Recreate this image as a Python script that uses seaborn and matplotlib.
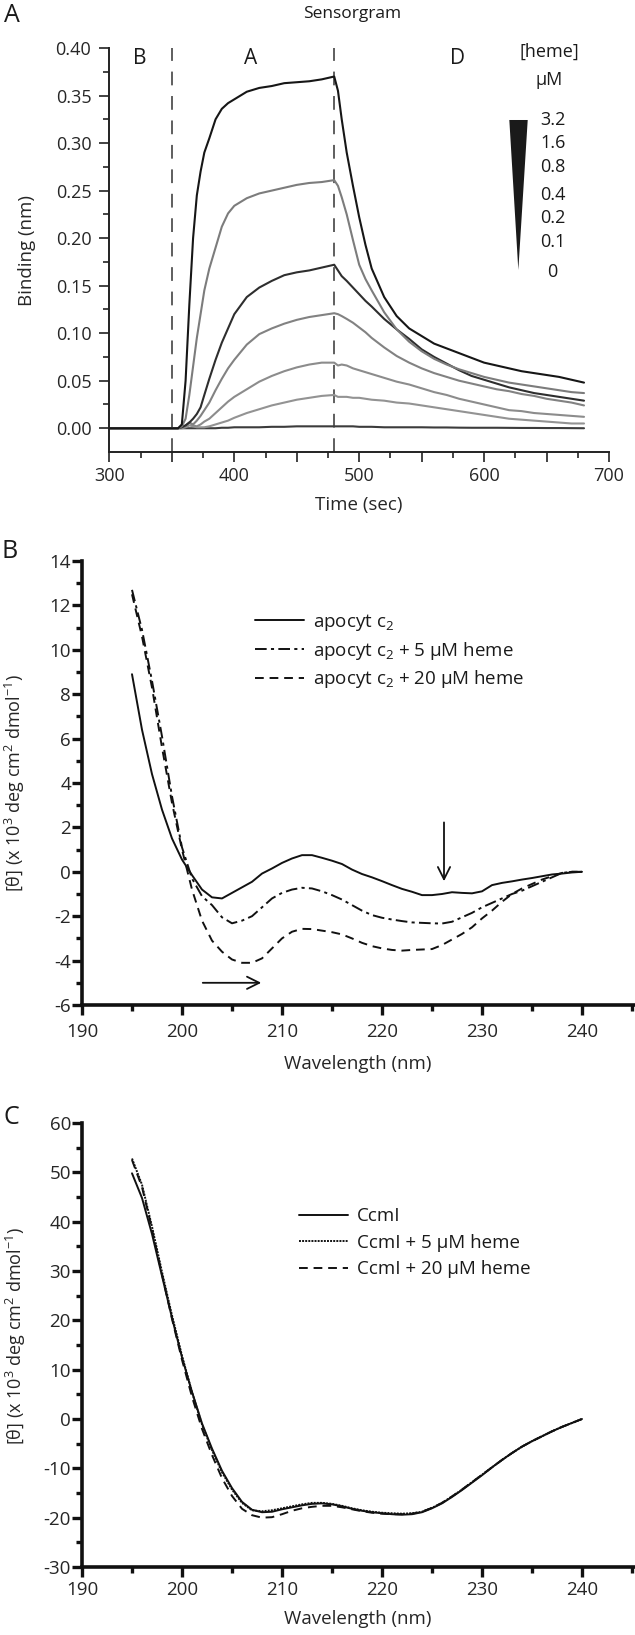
import numpy as np
import pandas as pd
import matplotlib
matplotlib.use("Agg")
import matplotlib.pyplot as plt
import seaborn as sns
from matplotlib.ticker import MultipleLocator, FixedLocator, FuncFormatter, FormatStrFormatter
from matplotlib.patches import Polygon

# ---------------- Panel A: sensorgram ----------------
time_s = [300, 355, 358, 361, 364, 367, 370, 373, 376, 380, 385, 390, 395, 400, 410, 420, 430,
          440, 450, 460, 470, 480, 483, 486, 490, 495, 500, 505, 510, 520, 530, 540, 550, 560,
          570, 580, 590, 600, 610, 620, 630, 640, 650, 660, 670, 680]
heme_conc = ["3.2", "1.6", "0.8", "0.4", "0.2", "0.1", "0"]
bind_3_2 = [0, 0, 0.004, 0.05, 0.13, 0.20, 0.245, 0.27, 0.29, 0.305, 0.325, 0.336, 0.342, 0.346,
            0.354, 0.358, 0.360, 0.363, 0.364, 0.365, 0.367, 0.370, 0.355, 0.325, 0.290, 0.255,
            0.222, 0.193, 0.168, 0.138, 0.118, 0.105, 0.097, 0.089, 0.084, 0.079, 0.074, 0.069,
            0.066, 0.063, 0.060, 0.058, 0.056, 0.054, 0.051, 0.048]
bind_1_6 = [0, 0, 0.002, 0.010, 0.035, 0.065, 0.095, 0.12, 0.145, 0.168, 0.19, 0.212, 0.226, 0.234,
            0.242, 0.247, 0.250, 0.253, 0.256, 0.258, 0.259, 0.261, 0.255, 0.243, 0.225, 0.198,
            0.172, 0.157, 0.145, 0.122, 0.104, 0.091, 0.081, 0.073, 0.067, 0.062, 0.058, 0.054,
            0.051, 0.048, 0.046, 0.044, 0.042, 0.040, 0.038, 0.037]
bind_0_8 = [0, 0, 0.001, 0.003, 0.006, 0.010, 0.015, 0.022, 0.035, 0.052, 0.072, 0.090, 0.105, 0.120,
            0.138, 0.148, 0.155, 0.161, 0.164, 0.166, 0.169, 0.172, 0.166, 0.160, 0.155, 0.148,
            0.141, 0.134, 0.128, 0.115, 0.104, 0.094, 0.083, 0.075, 0.068, 0.061, 0.055, 0.051,
            0.047, 0.043, 0.040, 0.037, 0.035, 0.033, 0.031, 0.029]
bind_0_4 = [0, 0, 0.001, 0.002, 0.006, 0.004, 0.008, 0.013, 0.019, 0.027, 0.040, 0.052, 0.063, 0.072,
            0.088, 0.099, 0.105, 0.110, 0.114, 0.117, 0.119, 0.121, 0.120, 0.118, 0.115, 0.111,
            0.106, 0.101, 0.095, 0.085, 0.076, 0.069, 0.063, 0.058, 0.054, 0.050, 0.047, 0.044,
            0.041, 0.039, 0.036, 0.034, 0.031, 0.029, 0.027, 0.024]
bind_0_2 = [0, 0, 0.001, 0.003, 0.006, 0.003, 0.002, 0.004, 0.007, 0.010, 0.016, 0.022, 0.028, 0.033,
            0.041, 0.049, 0.055, 0.060, 0.064, 0.067, 0.069, 0.069, 0.066, 0.067, 0.066, 0.063,
            0.061, 0.059, 0.057, 0.053, 0.049, 0.046, 0.042, 0.038, 0.035, 0.031, 0.028, 0.025,
            0.022, 0.019, 0.018, 0.016, 0.015, 0.014, 0.013, 0.012]
bind_0_1 = [0, 0, 0, 0.001, 0.003, 0.002, 0.001, 0.001, 0.001, 0.002, 0.004, 0.006, 0.008, 0.011,
            0.016, 0.020, 0.024, 0.027, 0.030, 0.032, 0.034, 0.035, 0.033, 0.033, 0.033, 0.032,
            0.032, 0.031, 0.030, 0.029, 0.027, 0.026, 0.024, 0.022, 0.020, 0.018, 0.016, 0.014,
            0.012, 0.010, 0.009, 0.008, 0.007, 0.006, 0.005, 0.005]
bind_0 = [0, 0, 0, 0, 0, 0, 0, 0, 0, 0, 0, 0.0005, 0.0005, 0.001, 0.001, 0.001, 0.0015, 0.0015,
          0.002, 0.002, 0.002, 0.002, 0.002, 0.002, 0.002, 0.002, 0.0015, 0.0015, 0.0015, 0.001,
          0.001, 0.001, 0.001, 0.0008, 0.0008, 0.0006, 0.0005, 0.0005, 0.0005, 0.0004, 0.0003,
          0.0003, 0.0002, 0.0002, 0.0001, 0.0]
phase_bounds = [350, 480]
phase_labels = ["B", "A", "D"]
phase_label_x = [324, 413, 579]

# ---------------- Panel B: apocyt c2 CD ----------------
wl_b = list(range(195, 241))
apo_c2 = [8.9, 6.4, 4.4, 2.8, 1.5, 0.55, -0.15, -0.8, -1.15, -1.2, -0.95, -0.7, -0.45, -0.08, 0.15,
          0.4, 0.6, 0.75, 0.75, 0.63, 0.5, 0.35, 0.1, -0.1, -0.25, -0.42, -0.6, -0.77, -0.9, -1.05,
          -1.05, -1.0, -0.92, -0.95, -0.97, -0.88, -0.6, -0.5, -0.43, -0.35, -0.28, -0.2, -0.12,
          -0.08, -0.03, 0.0]
apo_c2_5 = [12.7, 10.9, 8.6, 6.1, 3.4, 1.1, -0.3, -1.1, -1.5, -2.05, -2.32, -2.2, -2.0, -1.6, -1.2,
            -0.95, -0.8, -0.72, -0.75, -0.88, -1.05, -1.25, -1.5, -1.75, -1.95, -2.07, -2.15, -2.22,
            -2.28, -2.3, -2.32, -2.33, -2.25, -2.05, -1.85, -1.6, -1.4, -1.2, -1.0, -0.85, -0.65,
            -0.45, -0.25, -0.05, 0.0, 0.0]
apo_c2_20 = [12.5, 10.6, 8.3, 5.6, 3.1, 1.0, -0.8, -2.2, -3.1, -3.6, -3.95, -4.1, -4.1, -3.9, -3.45,
             -3.0, -2.7, -2.57, -2.58, -2.65, -2.72, -2.82, -3.0, -3.2, -3.35, -3.45, -3.52, -3.55,
             -3.52, -3.5, -3.48, -3.3, -3.05, -2.8, -2.5, -2.1, -1.75, -1.35, -1.0, -0.75, -0.55,
             -0.35, -0.2, -0.05, 0.0, 0.0]
labels_b = [r"apocyt c$_{\mathregular{2}}$",
            r"apocyt c$_{\mathregular{2}}$ + 5 μM heme",
            r"apocyt c$_{\mathregular{2}}$ + 20 μM heme"]
arrow_down = [226.2, 2.35, -0.55]      # x, y_start, y_end
arrow_right = [201.8, 208.2, -5.0]     # x_start, x_end, y

# ---------------- Panel C: CcmI CD ----------------
wl_c = list(range(195, 241))
ccmi = [49.8, 44.8, 37.5, 29.0, 20.5, 12.5, 5.5, -0.9, -6.0, -10.5, -14.0, -16.8, -18.4, -18.9,
        -18.8, -18.3, -17.9, -17.5, -17.2, -17.1, -17.3, -17.7, -18.2, -18.6, -18.9, -19.1, -19.3,
        -19.4, -19.3, -18.9, -18.1, -17.1, -15.8, -14.4, -12.9, -11.4, -9.8, -8.3, -6.9, -5.6,
        -4.5, -3.5, -2.5, -1.6, -0.8, 0.0]
ccmi_5 = [52.8, 47.5, 39.0, 29.8, 21.0, 12.8, 5.4, -1.1, -6.3, -10.8, -14.3, -17.0, -18.5, -18.7,
          -18.5, -18.1, -17.7, -17.3, -17.0, -17.0, -17.2, -17.6, -18.1, -18.5, -18.8, -19.0, -19.1,
          -19.2, -19.1, -18.8, -18.0, -17.0, -15.7, -14.3, -12.8, -11.3, -9.8, -8.3, -6.9, -5.6,
          -4.5, -3.5, -2.5, -1.6, -0.8, 0.0]
ccmi_20 = [52.5, 47.0, 38.5, 29.3, 20.3, 12.0, 4.5, -2.0, -7.3, -12.0, -15.6, -18.2, -19.5, -20.0,
           -19.9, -19.3, -18.6, -18.1, -17.8, -17.6, -17.6, -17.9, -18.3, -18.7, -19.0, -19.2, -19.3,
           -19.3, -19.2, -18.8, -18.0, -17.0, -15.7, -14.3, -12.8, -11.3, -9.8, -8.3, -6.9, -5.6,
           -4.5, -3.5, -2.5, -1.6, -0.8, 0.0]
labels_c = ["CcmI", "CcmI + 5 μM heme", "CcmI + 20 μM heme"]

# ---------------- style ----------------
sns.set_style("ticks")
plt.rcParams['font.family'] = ['Open Sans', 'DejaVu Sans']
plt.rcParams['mathtext.fontset'] = 'custom'
plt.rcParams['mathtext.rm'] = 'Open Sans'
plt.rcParams['mathtext.it'] = 'Open Sans'
plt.rcParams['axes.unicode_minus'] = False
plt.rcParams['text.color'] = '#1a1a1a'

W, H = 635, 1635
fig = plt.figure(figsize=(W / 100, H / 100), dpi=100)

def px_axes(left, top, right, bottom):
    return fig.add_axes([left / W, 1 - bottom / H, (right - left) / W, (bottom - top) / H])

# ===== Panel A =====
axA = px_axes(109.4, 48, 609, 452)
dfA = pd.DataFrame({
    "time": time_s * 7,
    "binding": bind_3_2 + bind_1_6 + bind_0_8 + bind_0_4 + bind_0_2 + bind_0_1 + bind_0,
    "heme": sum([[c] * len(time_s) for c in heme_conc], []),
})
palA = {"3.2": "#161616", "1.6": "#7c7c7c", "0.8": "#2e2e2e", "0.4": "#828282",
        "0.2": "#8c8c8c", "0.1": "#939393", "0": "#3c3c3c"}
sns.lineplot(data=dfA, x="time", y="binding", hue="heme", hue_order=heme_conc[::-1],
             palette=palA, estimator=None, legend=False, lw=1.5, ax=axA)
for xb in phase_bounds:
    axA.axvline(xb, color="#333333", lw=1.1, ls=(0, (9, 7)), zorder=1)
for lab, xl in zip(phase_labels, phase_label_x):
    axA.text(xl, 0.389, lab, ha="center", va="center", fontsize=15)
axA.set_xlim(300, 700)
axA.set_ylim(-0.025, 0.40)
axA.xaxis.set_major_locator(MultipleLocator(50))
axA.xaxis.set_minor_locator(MultipleLocator(25))
axA.xaxis.set_major_formatter(FuncFormatter(lambda v, p: f"{int(v)}" if int(round(v)) % 100 == 0 else ""))
axA.yaxis.set_major_locator(FixedLocator(np.arange(0, 0.401, 0.05)))
axA.yaxis.set_minor_locator(FixedLocator(np.arange(0.025, 0.4, 0.05)))
axA.yaxis.set_major_formatter(FormatStrFormatter("%.2f"))
for s in ["top", "right"]:
    axA.spines[s].set_visible(False)
for s in ["left", "bottom"]:
    axA.spines[s].set_linewidth(1.4)
    axA.spines[s].set_color("#222222")
axA.tick_params(which="major", length=7, width=1.2, labelsize=13, color="#222222", pad=4)
axA.tick_params(which="minor", length=4, width=1.2, color="#222222")
axA.tick_params(axis="y", pad=6)
axA.set_xlabel("Time (sec)", fontsize=13.5, labelpad=8)
axA.set_ylabel("Binding (nm)", fontsize=13.5)
axA.yaxis.set_label_coords(-0.147, 0.5)
# concentration wedge legend
axA.add_patch(Polygon([[0.8005, 0.8218], [0.8373, 0.8218], [0.8185, 0.4505]], closed=True,
                      transform=axA.transAxes, facecolor="#1a1a1a", edgecolor="none", clip_on=False))
axA.text(0.8798, 0.990, "[heme]", transform=axA.transAxes, ha="center", va="center", fontsize=13)
axA.text(0.8798, 0.921, "μM", transform=axA.transAxes, ha="center", va="center", fontsize=13)
wedge_y = [0.8218, 0.765, 0.705, 0.636, 0.579, 0.52]
for lab, yy in zip(heme_conc[:-1], wedge_y):
    axA.text(0.862, yy, lab, transform=axA.transAxes, ha="left", va="center", fontsize=13)
axA.text(0.886, 0.4455, heme_conc[-1], transform=axA.transAxes, ha="center", va="center", fontsize=13)

fig.text(352 / W, 1 - 14 / H, "Sensorgram", ha="center", va="center", fontsize=12.5)
fig.text(12 / W, 1 - 16 / H, "A", ha="center", va="center", fontsize=18)

# ===== Panel B =====
ylab_cd = r"[θ] (x 10$^{\mathregular{3}}$ deg cm$^{\mathregular{2}}$ dmol$^{\mathregular{-1}}$)"
axB = px_axes(82, 561, 634, 1005)
styles_b = ["-", (0, (6, 2.2, 1.6, 2.2)), (0, (4.5, 3))]
for yv, lab, ls in zip([apo_c2, apo_c2_5, apo_c2_20], labels_b, styles_b):
    sns.lineplot(x=wl_b, y=yv, ax=axB, color="#111111", lw=1.4, linestyle=ls, label=lab)
axB.annotate("", xy=(arrow_down[0], arrow_down[2]), xytext=(arrow_down[0], arrow_down[1]),
             arrowprops=dict(arrowstyle="->", lw=1.3, color="#111111", mutation_scale=22))
axB.annotate("", xy=(arrow_right[1], arrow_right[2]), xytext=(arrow_right[0], arrow_right[2]),
             arrowprops=dict(arrowstyle="->", lw=1.3, color="#111111", mutation_scale=22))
axB.set_xlim(190, 245.2)
axB.set_ylim(-6, 14)
axB.xaxis.set_major_locator(MultipleLocator(10))
axB.xaxis.set_minor_locator(MultipleLocator(5))
axB.yaxis.set_major_locator(MultipleLocator(2))
axB.yaxis.set_minor_locator(MultipleLocator(1))
axB.set_xlabel("Wavelength (nm)", fontsize=13.5, labelpad=10)
axB.set_ylabel(ylab_cd, fontsize=13)
axB.yaxis.set_label_coords(-0.1, 0.5)
axB.legend(loc="upper left", bbox_to_anchor=(0.3134, 0.885), frameon=False, fontsize=13.5,
           handlelength=2.6, handletextpad=0.5, labelspacing=0.35, borderpad=0, borderaxespad=0)
fig.text(10 / W, 1 - 551 / H, "B", ha="center", va="center", fontsize=18)

# ===== Panel C =====
axC = px_axes(82, 1123, 634, 1567)
styles_c = ["-", (0, (1, 0.6)), (0, (4.5, 3))]
for yv, lab, ls in zip([ccmi, ccmi_5, ccmi_20], labels_c, styles_c):
    sns.lineplot(x=wl_c, y=yv, ax=axC, color="#111111", lw=1.4, linestyle=ls, label=lab)
axC.set_xlim(190, 245.2)
axC.set_ylim(-30, 60)
axC.xaxis.set_major_locator(MultipleLocator(10))
axC.xaxis.set_minor_locator(MultipleLocator(5))
axC.yaxis.set_major_locator(MultipleLocator(10))
axC.yaxis.set_minor_locator(MultipleLocator(5))
axC.set_xlabel("Wavelength (nm)", fontsize=13.5, labelpad=8)
axC.set_ylabel(ylab_cd, fontsize=13)
axC.yaxis.set_label_coords(-0.098, 0.52)
axC.legend(loc="upper left", bbox_to_anchor=(0.393, 0.81), frameon=False, fontsize=13.5,
           handlelength=2.6, handletextpad=0.5, labelspacing=0.45, borderpad=0, borderaxespad=0)
fig.text(11 / W, 1 - 1117 / H, "C", ha="center", va="center", fontsize=18)

for ax, xpad in [(axB, 6), (axC, 3)]:
    for s in ["top", "right"]:
        ax.spines[s].set_visible(False)
    for s in ["left", "bottom"]:
        ax.spines[s].set_linewidth(2.6)
        ax.spines[s].set_color("#111111")
    ax.tick_params(which="major", length=7, width=2.4, labelsize=13.5, color="#111111")
    ax.tick_params(which="minor", length=4, width=2.4, color="#111111")
    ax.tick_params(axis="y", which="major", pad=1)
    ax.tick_params(axis="x", which="major", pad=xpad)

fig.savefig("out.png", dpi=100)
